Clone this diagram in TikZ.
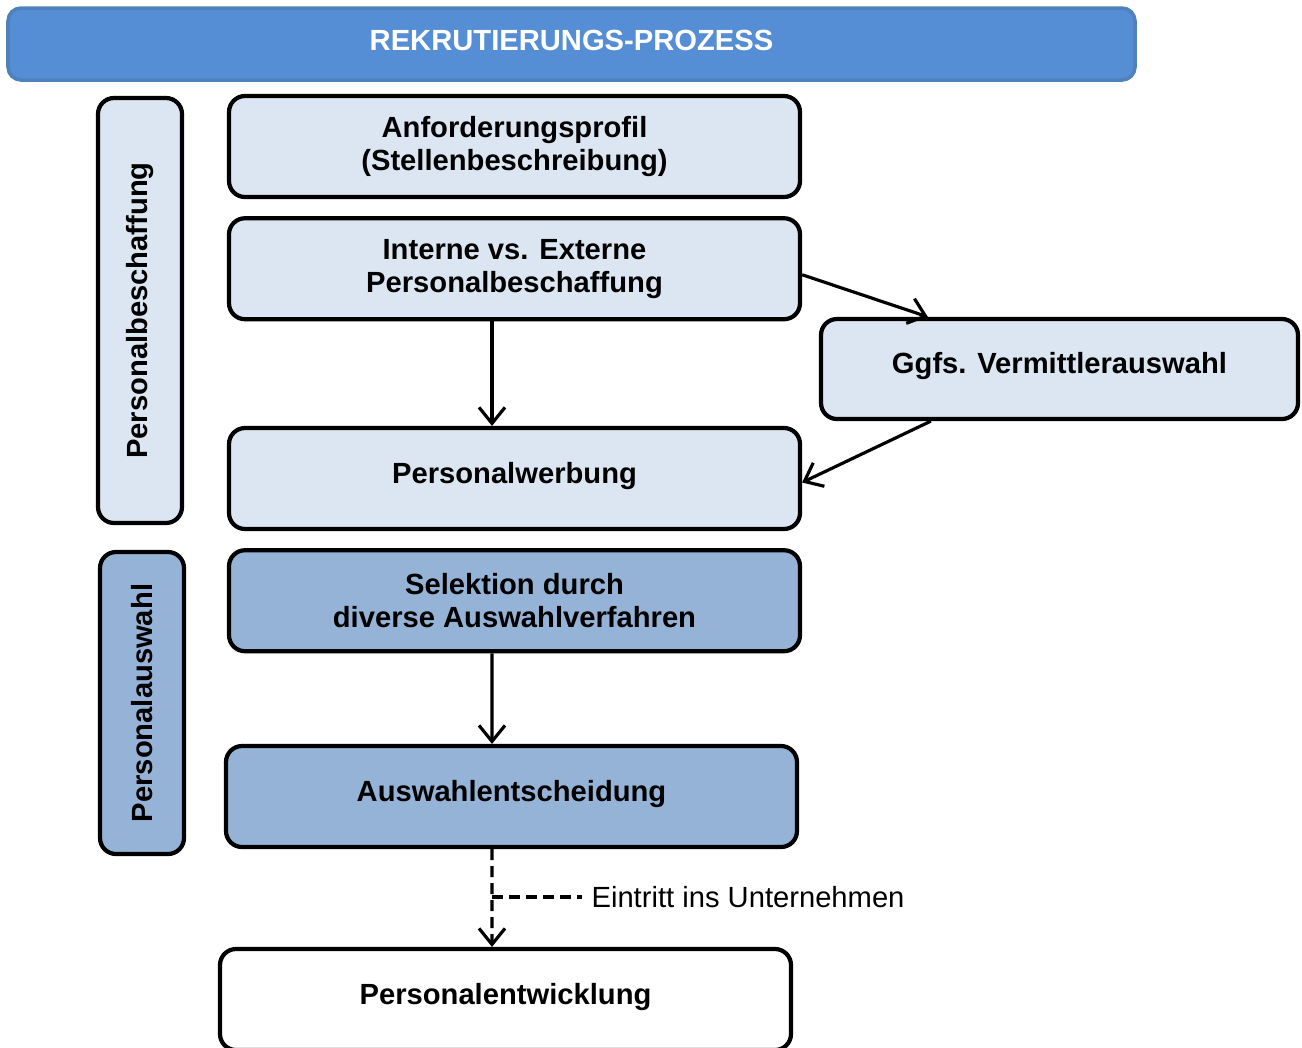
\documentclass[tikz,border=0pt]{standalone}
\usepackage{fontspec}
\setmainfont{Liberation Sans}
\usepackage{xcolor}
\usetikzlibrary{positioning}
\usetikzlibrary{calc}
\usetikzlibrary{arrows.meta}
\definecolor{paleblue}{HTML}{DCE6F2}
\definecolor{midblue}{HTML}{95B3D7}
\definecolor{bannerblue}{HTML}{558ED5}
\definecolor{bannerline}{HTML}{4F81BD}

\begin{document}
\begin{tikzpicture}[-> , >= {Straight Barb[length=1.6mm,width=2.6mm]}, line width =0.9 pt,
        font=\fontsize{8.3}{9.4}\selectfont\bfseries,
        stage/.style={draw, line width=1.2pt, rounded corners=0.16cm, fill=paleblue,
            minimum width=5.71cm, minimum height=1.01cm, align=center, inner sep=0pt},
        oneline/.style={text depth=0.12cm},
        phase/.style={draw, line width=1.2pt, rounded corners=0.16cm, rotate=90,
            minimum height=0.84cm, inner sep=0pt}]
            \useasboundingbox (0,0) rectangle (13.02,-10.47);
            \node [draw=bannerline, line width=1pt, fill=bannerblue, rounded corners=0.13cm,
                minimum width=11.27cm, minimum height=0.72cm, text depth=0.08cm, text=white] (title) at (5.715,-0.44) {REKRUTIERUNGS-PROZESS};

            \node [phase, fill=paleblue, minimum width=4.25cm] (beschaffung) at (1.40,-3.105) {Personalbeschaffung};
            \node [phase, fill=midblue, minimum width=3.02cm] (auswahl) at (1.42,-7.03) {Personalauswahl};

            \node [stage] (profil) at (5.145,-1.465) {Anforderungsprofil\\(Stellenbeschreibung)};
            \node [stage, below=0.17cm of profil] (intext) {Interne vs. Externe\\Personalbeschaffung};
            \node [stage, oneline, minimum width=4.77cm, minimum height=1.0cm] (vermittler) at (10.595,-3.69) {Ggfs. Vermittlerauswahl};
            \node [stage, oneline] (werbung) at (5.145,-4.785) {Personalwerbung};
            \node [stage, fill=midblue, below=0.17cm of werbung] (selektion) {Selektion durch\\diverse Auswahlverfahren};
            \node [stage, oneline, fill=midblue] (entscheidung) at (5.115,-7.965) {Auswahlentscheidung};
            \node [stage, oneline, fill=white] (entwicklung) at (5.055,-9.995) {Personalentwicklung};

            \node [font=\fontsize{8.3}{9.4}\selectfont, anchor=west, inner sep=0pt] (eintritt) at (5.90,-8.97) {Eintritt ins Unternehmen};
            \coordinate (split) at (4.92,-8.97);

            \draw ([xshift=-2.25mm]intext.south) -- ([xshift=-2.25mm]werbung.north);
            \draw ([yshift=-0.6mm]intext.east) -- ([xshift=1.09cm]vermittler.north west);
            \draw ([xshift=1.12cm]vermittler.south west) -- ([yshift=-0.4mm]werbung.east);
            \draw ([xshift=-2.25mm]selektion.south) -- ([xshift=-1.95mm]entscheidung.north);
            \draw [dash pattern=on 1.1mm off 0.6mm] ([xshift=-1.95mm]entscheidung.south) -- ([xshift=-1.35mm]entwicklung.north);
            \draw [-, dash pattern=on 1.1mm off 0.6mm] (split) -- ([xshift=-0.8mm]eintritt.west);
        \end{tikzpicture}
\end{document}
